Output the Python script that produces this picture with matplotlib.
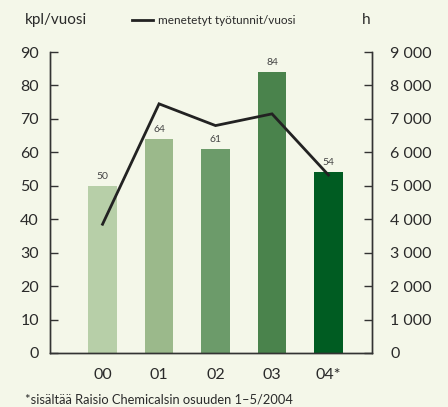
import matplotlib
matplotlib.use("Agg")
import matplotlib.pyplot as plt
from matplotlib.lines import Line2D

categories = ["00", "01", "02", "03", "04*"]
accidents = [50, 64, 61, 84, 54]
lost_hours = [3850, 7450, 6800, 7150, 5320]
bar_colors = ["#b7cfa8", "#9bb98b", "#6c9b6a", "#4a834c", "#005c22"]
left_ticks = list(range(0, 91, 10))
right_ticks = list(range(0, 9001, 1000))
right_labels = ["0", "1 000", "2 000", "3 000", "4 000", "5 000", "6 000", "7 000", "8 000", "9 000"]

bg = "#f4f7e9"
plt.rcParams['font.family'] = ['Lato', 'DejaVu Sans']
txt = "#2a2a2a"

fig = plt.figure(figsize=(4.48, 4.07), dpi=100, facecolor=bg)
ax = fig.add_axes([50/448, 54/407, 322/448, 301/407], facecolor=bg)
ax2 = ax.twinx()

x = list(range(len(categories)))
ax.bar(x, accidents, width=0.51, color=bar_colors, zorder=2)
for xi, v in zip(x, accidents):
    ax.text(xi, v + 1.5, str(v), ha="center", va="bottom", fontsize=7.5, color="#444444")

ax2.plot(x, lost_hours, color="#222222", lw=2.0, zorder=3, solid_joinstyle="miter")

ax.set_xlim(-0.93, 4.77)
ax.set_ylim(0, 90)
ax2.set_ylim(0, 9000)
ax.set_yticks(left_ticks)
ax.set_yticklabels([str(t) for t in left_ticks], fontsize=11.5, color=txt)
ax2.set_yticks(right_ticks)
ax2.set_yticklabels(right_labels, fontsize=11.5, color=txt)
ax.set_xticks(x)
ax.set_xticklabels(categories, fontsize=11.5, color=txt)

for a in (ax, ax2):
    a.spines["top"].set_visible(False)
    for s in ("left", "right", "bottom"):
        a.spines[s].set_color("#333333")
        a.spines[s].set_linewidth(1.0)
ax.tick_params(axis="y", direction="in", length=6, width=1, color="#333333", pad=8)
ax2.tick_params(axis="y", direction="in", length=6, width=1, color="#333333", pad=13)
ax.tick_params(axis="x", length=0, pad=11)
ax2.set_zorder(ax.get_zorder() + 1)
ax2.patch.set_visible(False)

fig.text(25/448, 1 - 20/407, "kpl/vuosi", fontsize=11, color=txt, va="center", ha="left")
fig.text(362/448, 1 - 20/407, "h", fontsize=11, color=txt, va="center", ha="left")
fig.add_artist(Line2D([132/448, 153/448], [1 - 20/407, 1 - 20/407], color="#222222", lw=2.0))
fig.text(158/448, 1 - 20/407, "menetetyt työtunnit/vuosi", fontsize=8.5, color=txt, va="center", ha="left")
fig.text(25/448, 1 - 399/407, "*sisältää Raisio Chemicalsin osuuden 1–5/2004", fontsize=9.3, color=txt, va="center", ha="left")

fig.savefig("out.png", dpi=100, facecolor=bg)
